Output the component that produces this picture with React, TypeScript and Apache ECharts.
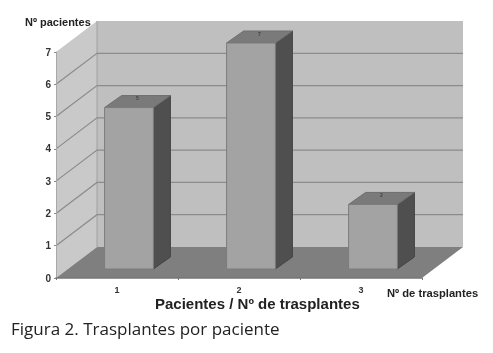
import React, { useEffect, useRef } from "react";
import * as echarts from "echarts";

const categories = ["1", "2", "3"];
const patients = [5, 7, 2];
const yTicks = [1, 2, 3, 4, 5, 6];
const yMax = 7;
const yAxisTitle = "Nº pacientes";
const xAxisTitle = "Nº de trasplantes";
const chartTitle = "Pacientes / Nº de trasplantes";
const caption = "Figura 2. Trasplantes por paciente";

const wallDx = 41;
const wallDy = -31;
const barDx = 17;
const barDy = -12;
const barShiftX = 12;
const barShiftY = -9;

export default function App() {
  const ref = useRef<HTMLDivElement>(null);
  useEffect(() => {
    const chart = echarts.init(ref.current!, undefined, { renderer: "svg" });
    const poly = (points: number[][], fill: string, stroke?: string) => ({
      type: "polygon",
      shape: { points },
      style: { fill, stroke: stroke || fill, lineWidth: stroke ? 1 : 0 },
    });
    chart.setOption({
      animation: false,
      backgroundColor: "#ffffff",
      textStyle: { fontFamily: "Liberation Sans" },
      grid: { left: 56, right: 71, top: 52, bottom: 75 },
      xAxis: {
        type: "category",
        data: categories,
        z: 5,
        axisLine: { lineStyle: { color: "#777777", width: 1.5 } },
        axisTick: { show: true, length: 2, lineStyle: { color: "#777777" } },
        axisLabel: { color: "#333333", fontSize: 9, fontWeight: "bold", margin: 7 },
        splitLine: { show: false },
      },
      yAxis: {
        type: "value",
        min: 0,
        max: yMax,
        interval: 1,
        z: 5,
        axisLine: { show: true, lineStyle: { color: "#a8a8a8", width: 1 } },
        axisTick: { show: true, length: 2, lineStyle: { color: "#888888" } },
        axisLabel: { color: "#333333", fontSize: 10, fontWeight: "bold", margin: 5 },
        splitLine: { show: false },
      },
      series: [
        {
          type: "custom",
          coordinateSystem: "cartesian2d",
          data: [[0]],
          silent: true,
          z: 1,
          renderItem: (_p: any, api: any) => {
            const o = api.coord([0, 0]);
            const x0 = api.coord([0, 0])[0] - api.size([1, 0])[0] / 2;
            const x1 = x0 + api.size([1, 0])[0] * categories.length;
            const y0 = o[1];
            const y1 = api.coord([0, yMax])[1];
            return {
              type: "group",
              children: [
                poly([[x0 + wallDx, y0 + wallDy], [x1 + wallDx, y0 + wallDy], [x1 + wallDx, y1 + wallDy], [x0 + wallDx, y1 + wallDy]], "#bfbfbf"),
                poly([[x0, y0], [x0 + wallDx, y0 + wallDy], [x0 + wallDx, y1 + wallDy], [x0, y1]], "#c9c9c9"),
                poly([[x0, y0], [x1, y0], [x1 + wallDx, y0 + wallDy], [x0 + wallDx, y0 + wallDy]], "#7f7f7f"),
                {
                  type: "line",
                  shape: { x1: x0 + wallDx, y1: y0 + wallDy, x2: x0 + wallDx, y2: y1 + wallDy },
                  style: { stroke: "#a0a0a0", lineWidth: 1 },
                },
              ],
            };
          },
        },
        {
          type: "custom",
          coordinateSystem: "cartesian2d",
          data: yTicks.map((v) => [0, v]),
          silent: true,
          z: 2,
          renderItem: (_p: any, api: any) => {
            const w = api.size([1, 0])[0];
            const x0 = api.coord([0, 0])[0] - w / 2;
            const x1 = x0 + w * categories.length;
            const y = api.coord([0, api.value(1)])[1];
            return {
              type: "polyline",
              shape: { points: [[x0, y], [x0 + wallDx, y + wallDy], [x1 + wallDx, y + wallDy]] },
              style: { fill: "none", stroke: "#8c8c8c", lineWidth: 1.2 },
            };
          },
        },
        {
          type: "custom",
          coordinateSystem: "cartesian2d",
          data: patients.map((v, i) => [i, v]),
          silent: true,
          z: 3,
          renderItem: (_p: any, api: any) => {
            const i = api.value(0);
            const v = api.value(1);
            const half = api.size([1, 0])[0] * 0.2;
            const c = api.coord([i, 0])[0] + barShiftX;
            const b = api.coord([i, 0])[1] + barShiftY;
            const t = api.coord([i, v])[1] + barShiftY;
            const l = c - half;
            const r = c + half;
            return {
              type: "group",
              children: [
                poly([[r, b], [r + barDx, b + barDy], [r + barDx, t + barDy], [r, t]], "#4f4f4f", "#444444"),
                poly([[l, t], [r, t], [r + barDx, t + barDy], [l + barDx, t + barDy]], "#7a7a7a", "#6e6e6e"),
                poly([[l, b], [r, b], [r, t], [l, t]], "#a3a3a3", "#7c7c7c"),
                {
                  type: "text",
                  style: {
                    x: c + barDx / 2,
                    y: t + barDy / 2 - 1,
                    text: String(v),
                    fill: "#444444",
                    fontSize: 5,
                    fontWeight: "bold",
                    fontFamily: "Liberation Sans",
                    align: "center",
                    verticalAlign: "bottom",
                  },
                },
              ],
            };
          },
        },
      ],
      graphic: [
        { type: "text", x: 25, y: 16, style: { text: yAxisTitle, fill: "#222222", fontSize: 11, fontWeight: "bold", fontFamily: "Liberation Sans" } },
        { type: "text", x: 387, y: 287, style: { text: xAxisTitle, fill: "#222222", fontSize: 11.2, fontWeight: "bold", fontFamily: "Liberation Sans" } },
        { type: "text", x: 155, y: 296, style: { text: chartTitle, fill: "#222222", fontSize: 15, fontWeight: "bold", fontFamily: "Liberation Sans" } },
        { type: "text", x: 11, y: 320, style: { text: caption, fill: "#222222", fontSize: 17, fontFamily: "Open Sans" } },
      ],
    });
    return () => chart.dispose();
  }, []);
  return (
    <div
      ref={ref}
      style={{ position: "fixed", left: 0, top: 0, width: 493, height: 353, filter: "blur(0.45px)" }}
    />
  );
}
